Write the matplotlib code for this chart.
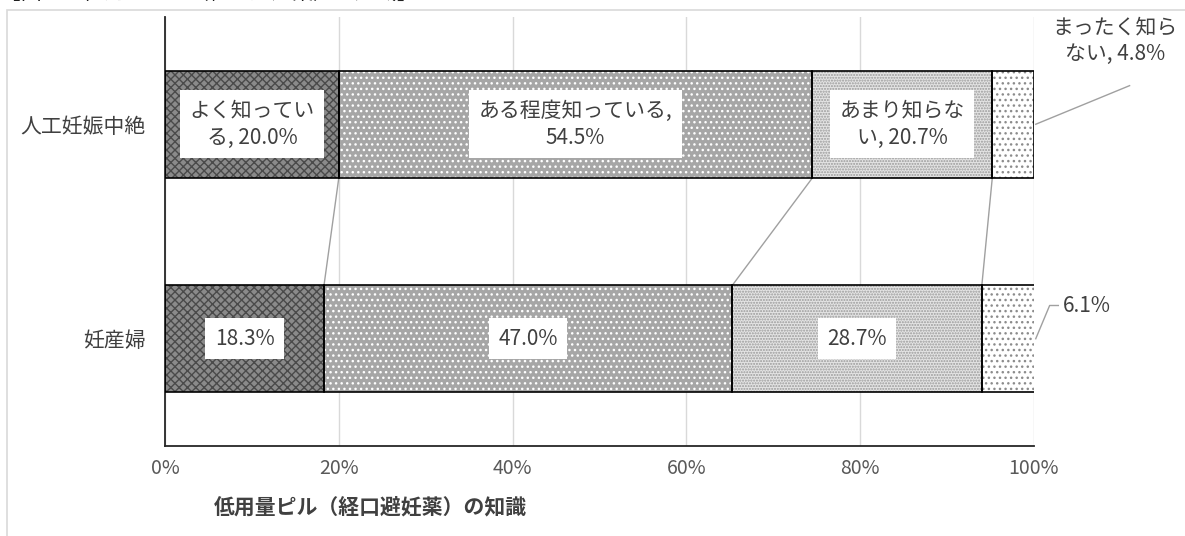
import matplotlib.pyplot as plt
from matplotlib.patches import Rectangle
import numpy as np

plt.rcParams['font.family'] = ['Noto Sans CJK JP', 'DejaVu Sans']
plt.rcParams['hatch.linewidth'] = 1.0

# データ
categories = ['妊産婦', '人工妊娠中絶']
series_names = ['よく知っている', 'ある程度知っている', 'あまり知らない', 'まったく知らない']
values = {
    '妊産婦': [18.3, 47.0, 28.7, 6.1],
    '人工妊娠中絶': [20.0, 54.5, 20.7, 4.8],
}
# ラベル（元の図の改行位置に合わせる）
labels_top = ['よく知ってい\nる, 20.0%', 'ある程度知っている,\n54.5%', 'あまり知らな\nい, 20.7%', 'まったく知ら\nない, 4.8%']
labels_bottom = ['18.3%', '47.0%', '28.7%', '6.1%']
xlabel = '低用量ピル（経口避妊薬）の知識'
title = '【図　　低用量ピル（経口避妊薬）の知識】'

# 模様（塗り色, ハッチ, ハッチ色）
styles = [
    ('#8a8a8a', 'xxxx', '#4a4a4a'),
    ('#a6a6a6', '...', '#ffffff'),
    ('#e4e4e4', '......', '#9a9a9a'),
    ('#ffffff', '...', '#8c8c8c'),
]
txt_color = '#404040'

fig = plt.figure(figsize=(11.85, 5.36), dpi=100)
ax = fig.add_axes([165 / 1185, 1 - 446 / 536, 869 / 1185, 429 / 536])

y = np.arange(len(categories))
h = 0.5
cum = {c: np.concatenate([[0], np.cumsum(values[c])]) for c in categories}

for i, c in enumerate(categories):
    for j in range(4):
        left = cum[c][j]
        w = values[c][j]
        fc, hatch, hc = styles[j]
        ax.barh(y[i], w, left=left, height=h, color=fc, hatch=hatch,
                edgecolor=hc, linewidth=0, zorder=2)
        ax.barh(y[i], w, left=left, height=h, color='none',
                edgecolor='black', linewidth=1.2, zorder=3)

# 系列線
for j in range(1, 4):
    ax.plot([cum['人工妊娠中絶'][j], cum['妊産婦'][j]], [1 - h / 2, h / 2],
            color='#a0a0a0', lw=1, zorder=1)

box = dict(boxstyle='square,pad=0.45', fc='white', ec='none')
for j in range(3):
    xc = cum['人工妊娠中絶'][j] + values['人工妊娠中絶'][j] / 2
    ax.text(xc, 1, labels_top[j], ha='center', va='center', fontsize=15,
            color=txt_color, bbox=box, zorder=4, linespacing=1.3)
    xc = cum['妊産婦'][j] + values['妊産婦'][j] / 2
    ax.text(xc, 0, labels_bottom[j], ha='center', va='center', fontsize=15,
            color=txt_color, bbox=box, zorder=4)

# 外側ラベル
ax.text(109.3, 1.39, labels_top[3], ha='center', va='center', fontsize=15,
        color=txt_color, linespacing=1.3, clip_on=False)
ax.plot([100.2, 111.0], [1.0, 1.18], color='#a0a0a0', lw=1, clip_on=False)
ax.text(103.3, 0.155, labels_bottom[3], ha='left', va='center', fontsize=15,
        color=txt_color, clip_on=False)
ax.plot([100.2, 101.8, 102.8], [0.0, 0.155, 0.155], color='#a0a0a0', lw=1,
        clip_on=False)

ax.set_xlim(0, 100)
ax.set_ylim(-0.5, 1.5)
ax.set_yticks(y)
ax.set_yticklabels(categories, fontsize=15, color=txt_color)
ax.set_xticks(np.arange(0, 101, 20))
ax.set_xticklabels([f'{v}%' for v in range(0, 101, 20)], fontsize=14, color='#595959')
ax.tick_params(length=0, pad=9)
ax.tick_params(axis='y', pad=14)
ax.grid(axis='x', color='#d9d9d9', lw=1, zorder=0)
ax.set_axisbelow(True)
for s in ['top', 'right']:
    ax.spines[s].set_visible(False)
ax.spines['left'].set_color('#262626')
ax.spines['bottom'].set_color('#262626')
ax.spines['left'].set_linewidth(1.3)
ax.spines['bottom'].set_linewidth(1.3)

fig.text(214 / 1185, 1 - 507 / 536, xlabel, ha='left', va='center', fontsize=15,
         fontweight='bold', color='#404040')

# 上部で切れたタイトル（元の図でも上端で切れている）
fig.text(0.0, 1.0 + 7 / 536, title, ha='left', va='center', fontsize=15, color='#202020')

# グラフエリアの枠
fig.patches.append(Rectangle((7 / 1185, -0.05), 1.2, 1 - 10 / 536 + 0.05,
                             transform=fig.transFigure, fill=False,
                             ec='#d9d9d9', lw=1.2))

fig.savefig('out.png', dpi=100)
